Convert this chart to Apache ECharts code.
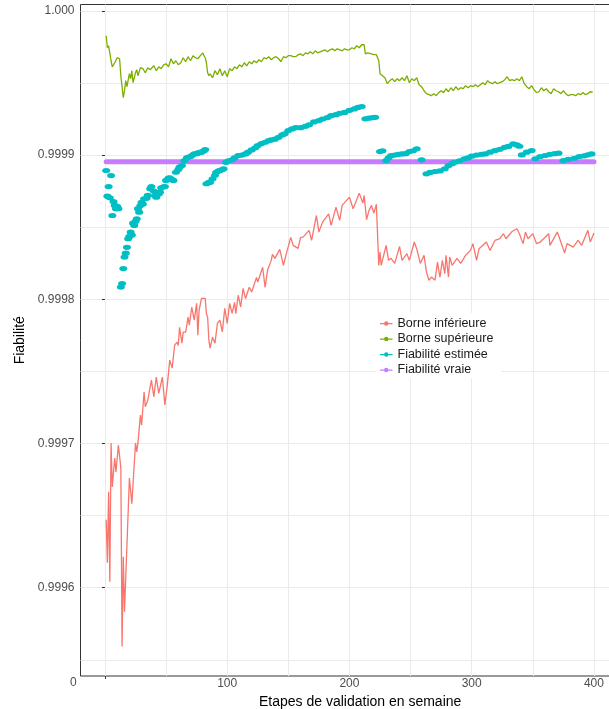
<!DOCTYPE html>
<html><head><meta charset="utf-8">
<script src="https://cdn.jsdelivr.net/npm/echarts@6/dist/echarts.min.js"></script>
<style>html,body{margin:0;padding:0;background:#fff}#c{width:609px;height:709px}</style>
</head><body><div id="c"></div>
<script>
const seriesNames = ['Borne inférieure', 'Borne supérieure', 'Fiabilité estimée', 'Fiabilité vraie'];
const colors = ['#F8766D', '#7CAE00', '#00BFC4', '#C77CFF'];
const yTickLabels = [0.9996, 0.9997, 0.9998, 0.9999, 1.0];
const yGridValues = [0.99955, 0.9996, 0.99965, 0.9997, 0.99975, 0.9998, 0.99985, 0.9999, 0.99995, 1.0];
const xTickLabels = [100, 200, 300, 400];
const xGridValues = [0, 50, 100, 150, 200, 250, 300, 350, 400];
const xTickMarks = [0];

const lower = [
[1,0.9996471],[2,0.9996173],[3,0.9996665],[4,0.9996042],[5,0.9997004],[6,0.9996699],[8,0.99969],[9,0.9996803],[11,0.999699],[13,0.9996831],[14,0.9995592],[15,0.9996215],[16,0.9995834],[20,0.9996761],[22,0.9996582],[25,0.9997004],[26,0.9996941],[27,0.9997004],[29,0.9997197],[30,0.9997128],[32,0.9997357],[33,0.9997255],[35,0.99973],[38,0.999744],[40,0.9997324],[42,0.999746],[44,0.9997348],[47,0.999746],[49,0.9997267],[51,0.9997405],[53,0.9997578],[55,0.9997523],[57,0.9997682],[59,0.9997703],[60,0.999768],[61,0.9997806],[63,0.9997696],[64,0.9997772],[66,0.9997772],[68,0.9997876],[69,0.999782],[71,0.9997945],[73,0.9997855],[75,0.9997972],[76,0.9997751],[77,0.9997924],[79,0.9998007],[82,0.9998007],[83,0.99979],[84,0.9997876],[85,0.9997716],[86,0.9997661],[88,0.9997737],[90,0.9997696],[92,0.9997834],[94,0.9997855],[96,0.9997774],[98,0.9997938],[100,0.9997832],[102,0.9997972],[104,0.9997903],[106,0.9997979],[107,0.9997901],[109,0.9998028],[111,0.9997947],[113,0.9998076],[115,0.9998005],[118,0.9998083],[120,0.9998051],[124,0.9998152],[125,0.999812],[129,0.9998222],[131,0.9998083],[133,0.9998201],[136,0.999827],[137,0.9998312],[139,0.9998284],[143,0.9998346],[146,0.9998235],[148,0.9998305],[152,0.9998429],[154,0.9998374],[158,0.9998353],[160,0.9998429],[162,0.9998431],[167,0.9998478],[169,0.9998408],[173,0.9998581],[175,0.9998466],[178,0.9998535],[183,0.9998593],[185,0.9998512],[189,0.9998639],[192,0.9998547],[194,0.9998651],[200,0.9998708],[203,0.9998628],[208,0.9998736],[211,0.9998667],[212,0.999872],[214,0.9998552],[216,0.9998616],[218,0.9998651],[220,0.9998597],[222,0.9998658],[223,0.999865],[224,0.9998235],[225,0.9998327],[226,0.9998235],[228,0.9998305],[230,0.9998374],[232,0.999827],[234,0.9998284],[237,0.9998249],[241,0.9998367],[243,0.999827],[247,0.9998316],[249,0.999827],[253,0.9998397],[255,0.9998351],[258,0.9998249],[261,0.9998305],[263,0.9998189],[265,0.9998132],[267,0.9998154],[270,0.9998132],[272,0.9998258],[274,0.9998154],[276,0.999827],[278,0.9998178],[279,0.9998305],[281,0.9998154],[282,0.9998293],[284,0.9998235],[288,0.9998284],[291,0.9998249],[295,0.9998305],[299,0.9998339],[301,0.9998386],[304,0.999827],[306,0.9998351],[312,0.9998397],[315,0.9998339],[319,0.9998408],[323,0.999842],[326,0.9998455],[328,0.999842],[333,0.999847],[337,0.9998489],[339,0.9998455],[342,0.9998386],[344,0.9998466],[346,0.999842],[350,0.9998455],[353,0.9998386],[356,0.9998397],[363,0.9998455],[364,0.9998374],[370,0.9998466],[372,0.999842],[376,0.9998321],[378,0.9998386],[383,0.9998362],[387,0.9998408],[390,0.9998374],[395,0.9998478],[397,0.9998397],[400,0.9998459]
];

const upper = [
[1,0.9999827],[2,0.9999744],[3,0.9999758],[4,0.9999751],[5,0.9999654],[6,0.9999612],[8,0.999964],[10,0.9999675],[12,0.9999668],[13,0.999955],[15,0.9999398],[16,0.9999446],[17,0.9999516],[18,0.9999474],[20,0.9999564],[21,0.9999529],[22,0.9999585],[23,0.9999502],[25,0.9999571],[26,0.9999592],[27,0.999955],[29,0.9999606],[31,0.9999599],[33,0.9999571],[35,0.9999606],[37,0.9999592],[40,0.9999619],[42,0.9999585],[44,0.9999612],[46,0.9999599],[48,0.9999626],[50,0.9999633],[52,0.9999612],[54,0.9999668],[56,0.9999633],[58,0.9999654],[60,0.9999626],[62,0.999964],[64,0.9999675],[66,0.9999647],[68,0.9999682],[70,0.9999654],[72,0.9999689],[74,0.9999675],[76,0.9999668],[78,0.9999689],[80,0.9999709],[81,0.9999689],[82,0.9999675],[83,0.999964],[84,0.9999571],[85,0.999955],[86,0.9999564],[88,0.9999536],[90,0.9999585],[92,0.9999557],[94,0.9999599],[96,0.999955],[98,0.9999585],[100,0.9999543],[102,0.9999599],[104,0.9999585],[106,0.9999612],[108,0.9999599],[110,0.9999626],[112,0.9999612],[114,0.999964],[116,0.9999619],[118,0.9999647],[120,0.9999633],[122,0.9999654],[124,0.999964],[126,0.9999661],[128,0.9999647],[130,0.9999675],[132,0.9999668],[134,0.9999682],[136,0.9999661],[138,0.9999675],[140,0.9999682],[142,0.9999668],[144,0.9999647],[146,0.9999682],[148,0.9999675],[150,0.9999689],[152,0.9999689],[154,0.9999682],[156,0.9999682],[158,0.9999696],[160,0.9999702],[162,0.9999689],[164,0.9999709],[166,0.9999702],[168,0.9999716],[170,0.9999702],[172,0.9999723],[174,0.9999709],[176,0.9999716],[178,0.9999723],[180,0.999973],[182,0.9999716],[184,0.999973],[186,0.9999737],[188,0.9999723],[190,0.9999737],[192,0.999973],[194,0.9999723],[196,0.9999737],[198,0.999973],[200,0.999973],[202,0.9999744],[204,0.9999737],[206,0.9999758],[208,0.9999744],[210,0.9999765],[212,0.9999765],[213,0.9999702],[215,0.9999709],[218,0.9999702],[220,0.9999696],[222,0.9999696],[224,0.9999654],[225,0.9999564],[227,0.999955],[229,0.9999536],[231,0.9999495],[233,0.9999516],[235,0.9999529],[237,0.9999509],[239,0.9999529],[241,0.9999516],[243,0.9999536],[245,0.9999516],[247,0.999955],[249,0.9999502],[251,0.9999529],[253,0.9999516],[255,0.9999536],[257,0.9999488],[259,0.9999474],[261,0.9999446],[263,0.9999426],[265,0.9999419],[267,0.9999412],[269,0.9999426],[271,0.9999412],[273,0.9999433],[275,0.9999446],[277,0.9999433],[279,0.999946],[281,0.9999439],[283,0.9999467],[285,0.9999446],[287,0.9999474],[289,0.9999453],[291,0.9999467],[293,0.999946],[295,0.9999481],[297,0.9999467],[299,0.9999481],[301,0.9999474],[303,0.9999488],[305,0.9999474],[307,0.9999488],[309,0.9999502],[311,0.9999488],[313,0.9999516],[315,0.9999502],[317,0.9999495],[319,0.9999509],[321,0.9999495],[323,0.9999502],[325,0.9999509],[327,0.9999523],[329,0.9999543],[331,0.9999516],[333,0.9999523],[335,0.9999516],[337,0.9999529],[339,0.9999516],[341,0.9999543],[343,0.9999495],[345,0.9999474],[347,0.999946],[349,0.9999481],[351,0.9999453],[353,0.9999433],[355,0.9999439],[357,0.9999467],[359,0.9999446],[361,0.999946],[363,0.9999439],[365,0.9999426],[367,0.999946],[369,0.9999446],[371,0.9999439],[373,0.9999426],[375,0.9999446],[377,0.9999426],[379,0.9999412],[381,0.9999419],[383,0.9999419],[385,0.9999412],[387,0.9999426],[389,0.9999419],[391,0.9999433],[393,0.9999419],[395,0.9999426],[397,0.9999439],[399,0.9999436]
];

const estimated = [
[1,0.9998893],[2,0.9998715],[3,0.9998782],[4,0.9998704],[5,0.9998858],[6,0.9998581],[7,0.9998678],[8,0.9998651],[9,0.9998628],[10,0.9998644],[11,0.9998628],[13,0.9998085],[14,0.9998109],[15,0.9998213],[16,0.9998293],[17,0.999832],[18,0.999836],[19,0.999842],[20,0.9998436],[21,0.9998466],[22,0.9998445],[23,0.9998528],[24,0.9998512],[25,0.999854],[26,0.9998558],[27,0.9998628],[28,0.9998604],[29,0.999865],[30,0.9998673],[31,0.999866],[32,0.9998697],[34,0.99987],[35,0.999872],[37,0.9998766],[38,0.9998782],[40,0.999875],[41,0.999872],[42,0.9998708],[44,0.999873],[45,0.9998743],[46,0.9998773],[48,0.999878],[49,0.9998782],[50,0.9998824],[52,0.999884],[53,0.9998842],[55,0.999883],[56,0.9998824],[58,0.9998881],[60,0.99989],[61,0.9998916],[63,0.9998927],[65,0.9998962],[67,0.999898],[68,0.9998985],[70,0.999899],[71,0.9998997],[73,0.9999008],[75,0.999901],[76,0.9999015],[78,0.999902],[79,0.9999019],[81,0.999903],[82,0.9999038],
[83,0.9998801],[85,0.999881],[86,0.9998812],[88,0.9998835],[90,0.999886],[91,0.9998881],[93,0.999889],[94,0.9998893],[96,0.99989],[97,0.9998905],[99,0.999895],[101,0.999896],[104,0.9998967],[106,0.999898],[109,0.9998997],[112,0.9999],[115,0.9999008],[117,0.999902],[120,0.9999036],[123,0.999905],[125,0.9999066],[128,0.999908],[131,0.9999089],[134,0.99991],[136,0.9999105],[139,0.999911],[142,0.9999123],[145,0.999914],[147,0.9999147],[150,0.999917],[153,0.9999181],[156,0.999919],[160,0.999919],[164,0.9999199],[167,0.999921],[171,0.999923],[175,0.9999239],[178,0.999925],[182,0.999926],[185,0.9999273],[189,0.999928],[192,0.999929],[196,0.9999296],[200,0.999931],[204,0.999932],[207,0.999933],[210,0.9999336],
[213,0.9999251],[216,0.9999256],[219,0.999926],[221,0.9999262],
[225,0.9999024],[227,0.999903],
[230,0.9998962],[232,0.999898],[234,0.9998997],[237,0.9999],[240,0.9999005],[243,0.9999008],[246,0.999901],[249,0.9999024],[252,0.999903],[255,0.9999043],[259,0.9998967],
[263,0.999887],[266,0.999888],[270,0.9998886],[274,0.999889],[278,0.9998905],[281,0.9998927],[284,0.999894],[286,0.999895],[290,0.999896],[294,0.9998974],[297,0.999898],[300,0.9998992],[304,0.9999],[308,0.9999005],[311,0.9999008],[315,0.999902],[319,0.9999031],[323,0.999904],[327,0.9999054],[330,0.999906],[334,0.9999078],[337,0.999907],[339,0.9999061],[341,0.9999001],[345,0.999902],[349,0.9999031],[352,0.9998974],[356,0.999899],[360,0.9998997],[364,0.9999005],[368,0.999901],[371,0.9999013],[375,0.9998962],[379,0.999897],[384,0.9998978],[388,0.999899],[392,0.9998995],[395,0.9999002],[398,0.9999008]
];

const trueReliability = [[1,0.9998953],[400,0.9998953]];

const FONT = '"Liberation Sans", Arial, Helvetica, sans-serif';
const LEGEND_ICON = 'path://M0 9H20V11H0Z M13.5 10A3.5 3.5 0 1 1 6.5 10A3.5 3.5 0 1 1 13.5 10Z';
const ELLIPSE = 'path://M0 5A10 5 0 1 1 20 5A10 5 0 1 1 0 5Z';

const chart = echarts.init(document.getElementById('c'), null, {renderer: 'canvas'});
const xMin = -20, xMax = 437.5, yMin = 0.9995388, yMax = 1.0000044;
const yFmt = v => (v >= 1 ? '1.000' : v.toFixed(4));

chart.setOption({
  animation: false,
  backgroundColor: '#fff',
  textStyle: {fontFamily: FONT},
  grid: {left: 80.5, top: 4.5, width: 559.3, height: 671.5, show: true, borderColor: '#333', borderWidth: 1,
         containLabel: false, outerBoundsMode: 'none'},
  xAxis: [
    {type: 'value', min: xMin, max: xMax, position: 'bottom',
     axisLine: {show: false},
     axisTick: {show: false, customValues: xGridValues},
     axisLabel: {show: true, customValues: xTickLabels, color: '#4d4d4d', fontSize: 12, margin: 2, fontFamily: FONT},
     splitLine: {show: true, lineStyle: {color: '#ebebeb', width: 1}},
     name: 'Etapes de validation en semaine', nameLocation: 'middle', nameGap: 16,
     nameTextStyle: {color: '#000', fontSize: 14, fontFamily: FONT}},
    {type: 'value', min: xMin, max: xMax, position: 'bottom', offset: 0,
     axisLine: {show: false},
     axisTick: {show: true, customValues: xTickMarks, length: 3, lineStyle: {color: '#333', width: 1}},
     axisLabel: {show: false}, splitLine: {show: false}}
  ],
  yAxis: [
    {type: 'value', min: yMin, max: yMax, position: 'left',
     axisLine: {show: false},
     axisTick: {show: false, customValues: yGridValues},
     axisLabel: {show: true, customValues: yTickLabels, formatter: yFmt, color: '#4d4d4d', fontSize: 12, margin: 6, fontFamily: FONT},
     splitLine: {show: true, lineStyle: {color: '#ebebeb', width: 1}},
     name: 'Fiabilité', nameLocation: 'middle', nameGap: 53,
     nameTextStyle: {color: '#000', fontSize: 14, fontFamily: FONT}},
    {type: 'value', min: yMin, max: yMax, position: 'left', offset: 0,
     axisLine: {show: false},
     axisTick: {show: true, customValues: yTickLabels, length: 3, lineStyle: {color: '#333', width: 1}},
     axisLabel: {show: false}, splitLine: {show: false}}
  ],
  legend: {
    orient: 'vertical', left: 376, top: 313, padding: [4, 8, 2, 4], itemGap: 2.5,
    itemWidth: 12.5, itemHeight: 4.4, backgroundColor: '#fff',
    textStyle: {fontSize: 12.5, color: '#1a1a1a', fontFamily: FONT},
    data: seriesNames.map(n => ({name: n, icon: LEGEND_ICON}))
  },
  graphic: [{type: 'text', left: 70, top: 677, silent: true,
    style: {text: '0', fill: '#4d4d4d', fontSize: 12, fontFamily: FONT}}],
  series: [
    {name: seriesNames[0], type: 'line', data: lower, showSymbol: false, symbol: 'none',
     color: colors[0], lineStyle: {color: colors[0], width: 1.3}, z: 2},
    {name: seriesNames[1], type: 'line', data: upper, showSymbol: false, symbol: 'none',
     color: colors[1], lineStyle: {color: colors[1], width: 1.3}, z: 2},
    {name: seriesNames[3], type: 'line', data: trueReliability, showSymbol: false, symbol: 'none',
     color: colors[3], lineStyle: {color: colors[3], width: 5, cap: 'round'}, z: 3},
    {name: seriesNames[2], type: 'scatter', data: estimated, symbol: ELLIPSE, symbolSize: [8, 5.2],
     color: colors[2], itemStyle: {color: colors[2], opacity: 1}, z: 4}
  ]
});
</script></body></html>
